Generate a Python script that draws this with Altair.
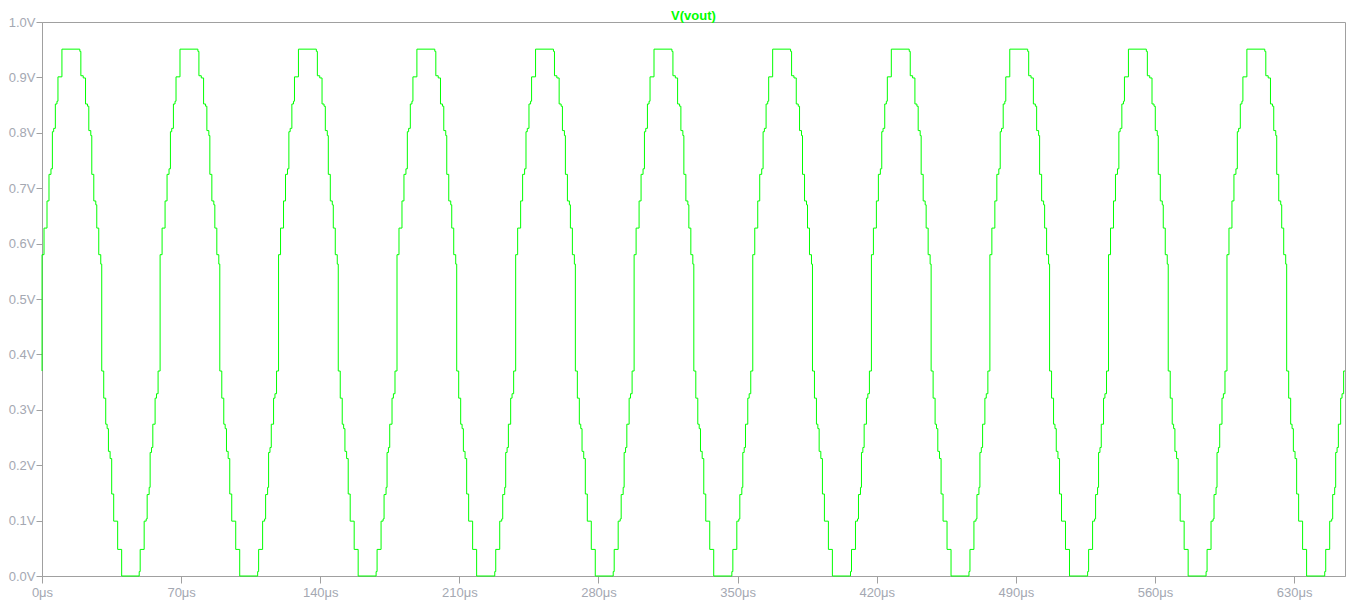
import altair as alt
import pandas as pd

# ---- data ----
T_END = 655.6          # end of simulated time (μs)
START_LEVEL = 0.370    # trace value at t = 0 (V)
TITLE = ["V(vout)"]

# start time (μs) of each DAC cycle (end of the flat 0 V trough)
CYCLE_STARTS = [-10.5, 48.9, 108.5, 168.1, 227.8, 287.4, 347.1,
                406.8, 466.4, 526.1, 585.7, 645.4]

# step times (μs, relative to cycle start) and held levels (V) of one cycle
STEP_T = [0.00, 0.50, 2.50, 3.51, 4.01, 5.01, 5.51, 6.21, 6.86, 8.01,
          8.71, 9.51, 10.52, 11.52, 13.02, 14.02, 15.02, 15.72, 16.37, 17.22,
          18.03, 18.53, 20.53, 29.54, 30.05, 31.25, 32.40, 33.40, 34.05, 35.05,
          35.55, 36.56, 37.56, 38.06, 39.06, 40.06, 40.56, 41.56, 42.56, 43.27,
          43.92, 44.77, 45.57, 46.57, 48.57, 50.58]
STEP_V = [0.008, 0.048, 0.099, 0.103, 0.147, 0.160, 0.223, 0.232, 0.274, 0.321,
          0.329, 0.370, 0.580, 0.628, 0.677, 0.725, 0.735, 0.802, 0.808, 0.852,
          0.857, 0.901, 0.951, 0.947, 0.903, 0.899, 0.852, 0.848, 0.804, 0.795,
          0.725, 0.677, 0.670, 0.628, 0.580, 0.563, 0.370, 0.321, 0.274, 0.266,
          0.225, 0.212, 0.148, 0.099, 0.048, 0.000]

X_TICKS = [0, 70, 140, 210, 280, 350, 420, 490, 560, 630]
Y_TICKS = [0.0, 0.1, 0.2, 0.3, 0.4, 0.5, 0.6, 0.7, 0.8, 0.9, 1.0]

# ---- build the trace table ----
rows = [(0.0, START_LEVEL)]
for c in CYCLE_STARTS:
    for dt, v in zip(STEP_T, STEP_V):
        t = c + dt
        if 0 < t < T_END:
            rows.append((t, v))
rows.append((T_END, rows[-1][1]))
df = pd.DataFrame(rows, columns=["t", "v"])

GREY = "#a0a0a0"
LABEL = "#a4a8b2"
FONT = "Liberation Sans"
W, H = 1303, 554

trace = alt.Chart(df).mark_line(
    interpolate="step-after", color="#00ff00", strokeWidth=1
).encode(
    x=alt.X("t:Q",
            scale=alt.Scale(domain=[0, T_END], nice=False, zero=False),
            axis=alt.Axis(values=X_TICKS, title=None, grid=False,
                          labelExpr="datum.value + 'μs'",
                          labelFlush=False, labelOverlap=False,
                          tickSize=7, labelPadding=3)),
    y=alt.Y("v:Q",
            scale=alt.Scale(domain=[0, 1], nice=False),
            axis=alt.Axis(values=Y_TICKS, title=None, grid=False,
                          labelExpr="format(datum.value, '.1f') + 'V'",
                          labelFlush=False, labelOverlap=False,
                          tickSize=6, labelPadding=1)),
)

title = alt.Chart(pd.DataFrame({"label": TITLE})).mark_text(
    color="#00ff00", font=FONT, fontSize=13, fontWeight="bold",
    align="center", baseline="alphabetic"
).encode(
    text="label:N",
    x=alt.value(W / 2),
    y=alt.value(-2.5),
)

chart = alt.layer(trace, title).properties(
    width=W,
    height=H,
    autosize=alt.AutoSizeParams(type="none"),
    padding={"left": 34, "top": 14, "right": 8, "bottom": 24},
).configure_view(
    stroke=GREY, strokeWidth=1
).configure_axis(
    domainColor=GREY, tickColor=GREY, labelColor=LABEL,
    labelFont=FONT, labelFontSize=13, domainWidth=1, tickWidth=1
)

chart.save("out.html", embed_options={"renderer": "svg", "actions": False})
